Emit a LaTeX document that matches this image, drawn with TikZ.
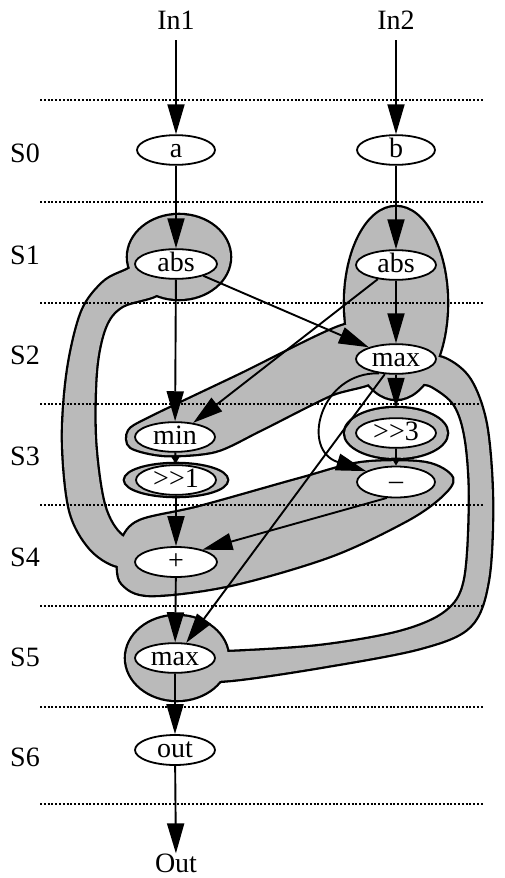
\documentclass[tikz,border=0pt]{standalone}
\usepackage{fontspec}
\setmainfont[Ligatures=NoCommon]{Liberation Serif}
\usetikzlibrary{arrows.meta,shapes.geometric}
\begin{document}
\begin{tikzpicture}[x=1pt,y=-1pt,
  op/.style={ellipse, draw, line width=1.8pt, fill=white, inner sep=0pt, minimum width=80pt, minimum height=27pt, text height=18pt, text depth=3pt, font=\fontsize{28}{30}\selectfont},
  lbl/.style={inner sep=0pt, font=\fontsize{28}{30}\selectfont},
  ringnode/.style={ellipse, inner sep=0pt},
  edge/.style={line width=1.9pt, -{Triangle[length=30pt,width=17pt]}},
  sedge/.style={line width=1.9pt, -{Triangle[length=8pt,width=9pt]}},
  stageline/.style={line width=1.9pt, dash pattern=on 1.9pt off 1.9pt},
  blobline/.style={line width=4.6pt},
  blobfill/.style={fill=black!27},
]
\useasboundingbox (0,0) rectangle (504,878);
\fill[white] (0,0) rectangle (504,878);
% shaded groups
\def\shAbsL{(179,257) ellipse [x radius=51pt, y radius=42pt]}
\def\shBig{(396,303) ellipse [x radius=51pt, y radius=96pt]}
\def\shMaxF{(177,658) ellipse [x radius=51pt, y radius=42pt]}
\def\shRa{(176,480) ellipse [x radius=51pt, y radius=16pt]}
\def\shRb{(396,433) ellipse [x radius=51pt, y radius=25pt]}
\def\shC{plot[smooth cycle, tension=0.55] coordinates {(150,262) (125,271) (103,283) (82,312) (68,370) (63,440) (70,510) (90,548) (118,566) (150,562) (150,542) (122,536) (104,505) (95,440) (96,370) (105,327) (122,306) (160,292)}}
\def\shBand{plot[smooth cycle, tension=0.5] coordinates {(378,330) (342,326) (240,375) (150,418) (129,431) (131,447) (165,455) (215,451) (260,430) (330,395) (378,378)}}
\def\shPlus{plot[smooth cycle, tension=0.55] coordinates {(362,463) (425,463) (452,478) (440,497) (405,521) (330,556) (230,585) (150,595) (122,583) (118,560) (122,540) (140,521) (200,507) (300,479)}}
\def\shU{plot[smooth cycle, tension=0.55] coordinates {(420,358) (445,359) (470,380) (486,425) (492,500) (488,580) (470,626) (420,648) (320,667) (230,680) (195,678) (195,652) (230,652) (320,646) (400,632) (446,612) (465,580) (470,500) (466,440) (455,405) (432,386) (412,380)}}
\draw[blobline] \shAbsL; \draw[blobline] \shBig; \draw[blobline] \shMaxF;
\draw[blobline] \shRa; \draw[blobline] \shRb; \draw[blobline] \shC;
\draw[blobline] \shBand; \draw[blobline] \shPlus; \draw[blobline] \shU;
\fill[blobfill] \shAbsL; \fill[blobfill] \shBig; \fill[blobfill] \shMaxF;
\fill[blobfill] \shRa; \fill[blobfill] \shRb; \fill[blobfill] \shC;
\fill[blobfill] \shBand; \fill[blobfill] \shPlus; \fill[blobfill] \shU;
% stage separators
\foreach \yy in {100,202,303,404,505,606,707,804} \draw[stageline] (40,\yy) -- (484,\yy);
% stage labels
\node[lbl] (s0) at (25,153) {S0};
\node[lbl] (s1) at (25,255) {S1};
\node[lbl] (s2) at (25,355) {S2};
\node[lbl] (s3) at (25,456) {S3};
\node[lbl] (s4) at (25,557) {S4};
\node[lbl] (s5) at (25,657) {S5};
\node[lbl] (s6) at (25,757) {S6};
% terminals
\node[lbl] (In1) at (176,20) {In1};
\node[lbl] (In2) at (396,20) {In2};
\node[lbl] (Out) at (176,863) {Out};
% operations
\node[op, minimum width=78pt, minimum height=29pt] (a) at (176,150) {a};
\node[op, minimum width=78pt, minimum height=29pt] (b) at (396,150) {b};
\node[op, minimum width=82pt, minimum height=28pt] (abs1) at (176,264) {abs};
\node[op] (abs2) at (396,265) {abs};
\node[op] (max) at (396,359) {max};
\node[op] (min) at (175,437) {min};
\node[ringnode, minimum width=102pt, minimum height=32pt] (r1) at (176,480) {};
\node[op, minimum width=80pt, minimum height=23pt] (sh1) at (176,480) {>{}>1};
\node[ringnode, minimum width=102pt, minimum height=50pt] (r3) at (396,433) {};
\node[op, minimum height=29pt] (sh3) at (396,433) {>{}>3};
\node[op, minimum width=78pt, minimum height=31pt] (minus) at (396,482) {–};
\node[op, minimum width=82pt, minimum height=30pt] (plus) at (176,562) {+};
\node[op, minimum height=25pt] (max5) at (175,658) {max};
\node[op, minimum height=30pt] (out) at (175,750) {out};
% edges
\draw[edge, shorten <=11pt] (In1) -- (a);
\draw[edge, shorten <=11pt] (In2) -- (b);
\draw[edge] (a) -- (abs1);
\draw[edge] (b) -- (abs2);
\draw[edge] (abs1) -- (min);
\draw[edge] (abs1) -- (max);
\draw[edge] (abs2) -- (max);
\draw[edge] (abs2) -- (min);
\draw[edge] (max) -- (r3);
\draw[sedge] (sh3) -- (minus);
\draw[edge] (max.220) .. controls (320,372) and (300,450) .. (minus.160);
\draw[sedge] (min) -- (r1);
\draw[edge] (r1) -- (plus);
\draw[edge] (minus.240) -- (plus.25);
\draw[edge] (plus) -- (max5);
\draw[edge] (max) -- (max5);
\draw[edge] (max5) -- (out);
\draw[edge] (out) -- (Out);
\end{tikzpicture}
\end{document}
